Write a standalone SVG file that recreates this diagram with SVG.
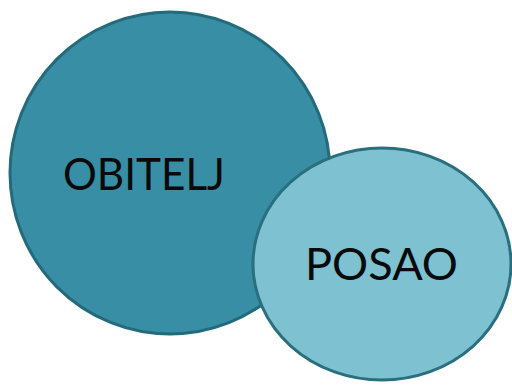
<svg xmlns="http://www.w3.org/2000/svg" width="512" height="385" viewBox="0 0 512 385">
<style>
.lbl{font-family:"Lato","Liberation Sans",sans-serif;font-size:44px;fill:#0a0a0a}
.shape{stroke-width:3}
</style>
<rect width="512" height="385" fill="#ffffff"/>
<g id="obitelj">
<ellipse class="shape" cx="170" cy="173" rx="160" ry="161" fill="#388ea5" stroke="#236a7a"/>
<text class="lbl" x="63" y="190" textLength="162" lengthAdjust="spacingAndGlyphs">OBITELJ</text>
</g>
<g id="posao">
<ellipse class="shape" cx="382" cy="264" rx="129" ry="116" fill="#7ec2d2" stroke="#2a6f7e"/>
<text class="lbl" x="305" y="280" textLength="153" lengthAdjust="spacingAndGlyphs">POSAO</text>
</g>
<g id="connectors"/>
</svg>
